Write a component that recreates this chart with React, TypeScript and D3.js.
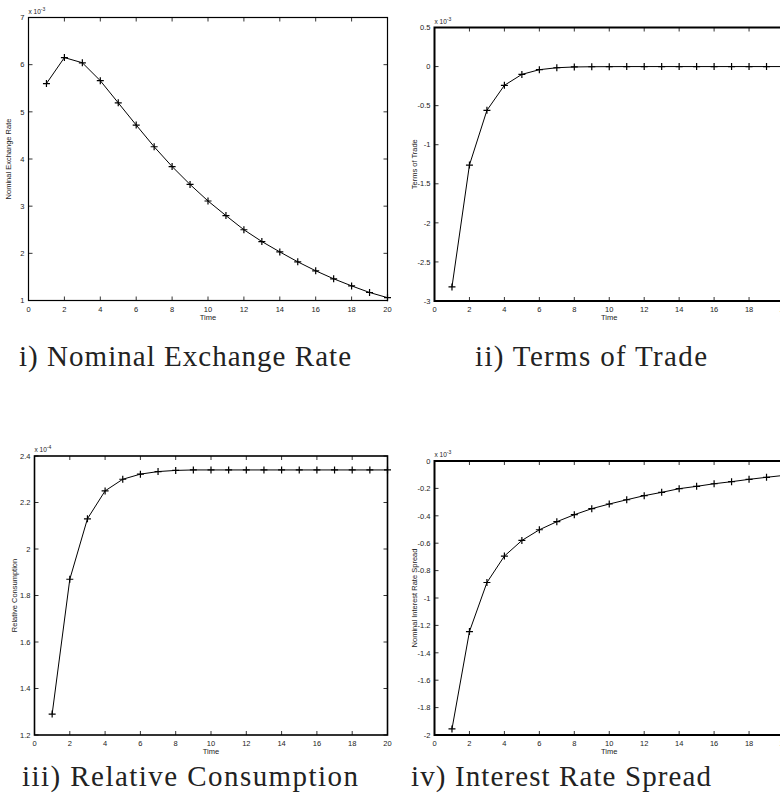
import React, { useEffect, useRef } from 'react';
import * as d3 from 'd3';

// time periods on the x axis
const time = [1, 2, 3, 4, 5, 6, 7, 8, 9, 10, 11, 12, 13, 14, 15, 16, 17, 18, 19, 20];
const xTicks = [0, 2, 4, 6, 8, 10, 12, 14, 16, 18, 20];

// impulse responses (scaled by the axis exponent)
const exchangeRate = [5.6, 6.15, 6.04, 5.66, 5.19, 4.72, 4.26, 3.84, 3.46, 3.11, 2.8, 2.5, 2.25, 2.03, 1.82, 1.63, 1.46, 1.31, 1.17, 1.06];
const termsOfTrade = [-2.82, -1.26, -0.56, -0.24, -0.1, -0.04, -0.015, -0.005, -0.002, -0.001, 0, 0, 0, 0, 0, 0, 0, 0, 0, 0];
const relConsumption = [1.29, 1.87, 2.13, 2.25, 2.3, 2.322, 2.333, 2.338, 2.34, 2.34, 2.34, 2.34, 2.34, 2.34, 2.34, 2.34, 2.34, 2.34, 2.34, 2.34];
const rateSpread = [-1.956, -1.245, -0.887, -0.694, -0.58, -0.502, -0.443, -0.392, -0.348, -0.314, -0.283, -0.253, -0.229, -0.202, -0.185, -0.166, -0.151, -0.134, -0.119, -0.105];

const yTicks1 = [1, 2, 3, 4, 5, 6, 7];
const yTicks2 = [-3, -2.5, -2, -1.5, -1, -0.5, 0, 0.5];
const yTicks3 = [1.2, 1.4, 1.6, 1.8, 2, 2.2, 2.4];
const yTicks4 = [-2, -1.8, -1.6, -1.4, -1.2, -1, -0.8, -0.6, -0.4, -0.2, 0];

const yLabels = ['Nominal Exchange Rate', 'Terms of Trade', 'Relative Consumption', 'Nominal Interest Rate Spread'];
const exponents = ['-3', '-3', '-4', '-3'];
const captions = ['i) Nominal Exchange Rate', 'ii) Terms of Trade', 'iii) Relative Consumption', 'iv) Interest Rate Spread'];

const panels = [
  { values: exchangeRate, yTicks: yTicks1, left: 28.5, right: 387.5, top: 17.5, bottom: 300.5, border: 1.2, capX: 185, capY: 366, capW: 332 },
  { values: termsOfTrade, yTicks: yTicks2, left: 434.5, right: 784, top: 27.5, bottom: 301, border: 2, capX: 591, capY: 366, capW: 232 },
  { values: relConsumption, yTicks: yTicks3, left: 34.5, right: 387.5, top: 456, bottom: 735, border: 1.6, capX: 190, capY: 786, capW: 336 },
  { values: rateSpread, yTicks: yTicks4, left: 434.5, right: 784, top: 461, bottom: 735, border: 2, capX: 561, capY: 786, capW: 300 },
];

const fmt = (v: number) => String(+v.toFixed(2));

const App = () => {
  const svgRef = useRef<SVGSVGElement>(null);

  useEffect(() => {
    const svg = d3.select(svgRef.current);
    svg.selectAll('*').remove();
    const tickFont = 'Liberation Sans, Arial, sans-serif';

    panels.forEach((p, i) => {
      const ys = p.yTicks;
      const x = d3.scaleLinear().domain([0, 20]).range([p.left, p.right]);
      const y = d3.scaleLinear().domain([ys[0], ys[ys.length - 1]]).range([p.bottom, p.top]);
      const g = svg.append('g');

      // inward ticks on all four sides
      const tl = 4;
      xTicks.forEach(t => {
        g.append('line').attr('x1', x(t)).attr('x2', x(t)).attr('y1', p.bottom).attr('y2', p.bottom - tl)
          .attr('stroke', '#000').attr('stroke-width', 0.8);
        g.append('line').attr('x1', x(t)).attr('x2', x(t)).attr('y1', p.top).attr('y2', p.top + tl)
          .attr('stroke', '#000').attr('stroke-width', 0.8);
        g.append('text').attr('x', x(t)).attr('y', p.bottom + 11)
          .attr('text-anchor', 'middle').attr('font-family', tickFont).attr('font-size', 7.5).attr('fill', '#222')
          .text(fmt(t));
      });
      ys.forEach(v => {
        g.append('line').attr('x1', p.left).attr('x2', p.left + tl).attr('y1', y(v)).attr('y2', y(v))
          .attr('stroke', '#000').attr('stroke-width', 0.8);
        g.append('line').attr('x1', p.right).attr('x2', p.right - tl).attr('y1', y(v)).attr('y2', y(v))
          .attr('stroke', '#000').attr('stroke-width', 0.8);
        g.append('text').attr('x', p.left - 4).attr('y', y(v) + 2.7)
          .attr('text-anchor', 'end').attr('font-family', tickFont).attr('font-size', 7.5).attr('fill', '#222')
          .text(fmt(v));
      });

      g.append('rect')
        .attr('x', p.left).attr('y', p.top)
        .attr('width', p.right - p.left).attr('height', p.bottom - p.top)
        .attr('fill', 'none').attr('stroke', '#000').attr('stroke-width', p.border);

      const pts = time.map((t, k) => [t, p.values[k]] as [number, number]);
      const line = d3.line<[number, number]>().x(d => x(d[0])).y(d => y(d[1]));
      g.append('path').datum(pts)
        .attr('fill', 'none').attr('stroke', '#000').attr('stroke-width', 1).attr('d', line);

      const m = 3.5;
      g.selectAll('path.mark').data(pts).enter().append('path')
        .attr('class', 'mark')
        .attr('d', d => `M${x(d[0]) - m},${y(d[1])}H${x(d[0]) + m}M${x(d[0])},${y(d[1]) - m}V${y(d[1]) + m}`)
        .attr('stroke', '#000').attr('stroke-width', 1.2);

      // exponent label above the y axis
      const ex = g.append('text').attr('x', p.left).attr('y', p.top - 4)
        .attr('font-family', tickFont).attr('font-size', 6.5).attr('fill', '#222');
      ex.append('tspan').text('x 10');
      ex.append('tspan').attr('dy', -3).attr('font-size', 5).text(exponents[i]);

      g.append('text').attr('x', (p.left + p.right) / 2).attr('y', p.bottom + 19)
        .attr('text-anchor', 'middle').attr('font-family', tickFont).attr('font-size', 7.5).attr('fill', '#222')
        .text('Time');

      g.append('text')
        .attr('transform', `translate(${p.left - 18},${(p.top + p.bottom) / 2}) rotate(-90)`)
        .attr('text-anchor', 'middle').attr('font-family', tickFont).attr('font-size', 7.5).attr('fill', '#222')
        .text(yLabels[i]);

      svg.append('text').attr('x', p.capX).attr('y', p.capY)
        .attr('text-anchor', 'middle').attr('font-family', "'Liberation Serif', serif").attr('font-size', 29)
        .attr('textLength', p.capW).attr('lengthAdjust', 'spacing')
        .attr('fill', '#222')
        .text(captions[i]);
    });
  }, []);

  return (
    <svg ref={svgRef} width={780} height={805}
      style={{ position: 'absolute', left: 0, top: 0, background: '#fff' }} />
  );
};

export default App;
